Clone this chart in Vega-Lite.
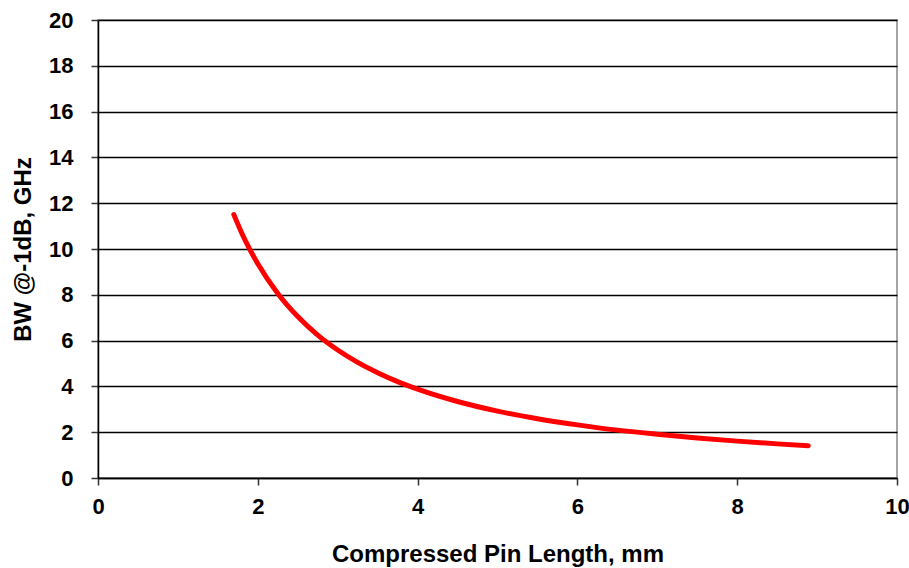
{
  "$schema": "https://vega.github.io/schema/vega-lite/v6.json",
  "autosize": "none",
  "width": 799,
  "height": 458,
  "padding": {"left": 98, "top": 20, "right": 12, "bottom": 90},
  "background": "white",
  "config": {
    "view": {"stroke": "#888888", "strokeWidth": 1.5},
    "font": "Liberation Sans"
  },
  "data": {
    "values": [
      {"x": 1.7, "y": 11.5},
      {"x": 1.8, "y": 10.69},
      {"x": 1.9, "y": 9.98},
      {"x": 2.0, "y": 9.36},
      {"x": 2.25, "y": 8.06},
      {"x": 2.5, "y": 7.05},
      {"x": 2.75, "y": 6.24},
      {"x": 3.0, "y": 5.59},
      {"x": 3.25, "y": 5.05},
      {"x": 3.5, "y": 4.6},
      {"x": 3.75, "y": 4.21},
      {"x": 4.0, "y": 3.88},
      {"x": 4.5, "y": 3.34},
      {"x": 5.0, "y": 2.92},
      {"x": 5.5, "y": 2.59},
      {"x": 6.0, "y": 2.32},
      {"x": 6.5, "y": 2.09},
      {"x": 7.0, "y": 1.91},
      {"x": 7.5, "y": 1.75},
      {"x": 8.0, "y": 1.61},
      {"x": 8.5, "y": 1.49},
      {"x": 8.89, "y": 1.41}
    ]
  },
  "mark": {"type": "line", "color": "#ff0000", "strokeWidth": 5, "strokeCap": "round", "strokeJoin": "round", "interpolate": "monotone"},
  "encoding": {
    "x": {
      "field": "x",
      "type": "quantitative",
      "scale": {"domain": [0, 10], "nice": false},
      "axis": {
        "title": "Compressed Pin Length, mm",
        "values": [0, 2, 4, 6, 8, 10],
        "grid": false,
        "domainColor": "#000000",
        "domainWidth": 1.5,
        "tickColor": "#333333",
        "tickWidth": 1.5,
        "tickSize": 7,
        "labelFont": "Liberation Sans",
        "labelFontSize": 22,
        "labelFontWeight": "bold",
        "labelColor": "#000000",
        "labelPadding": 11,
        "labelFlush": false,
        "titleFont": "Liberation Sans",
        "titleFontSize": 24,
        "titleFontWeight": "bold",
        "titleColor": "#000000",
        "titleY": 83,
        "titleBaseline": "alphabetic"
      }
    },
    "y": {
      "field": "y",
      "type": "quantitative",
      "scale": {"domain": [0, 20], "nice": false},
      "axis": {
        "title": "BW @-1dB, GHz",
        "values": [0, 2, 4, 6, 8, 10, 12, 14, 16, 18, 20],
        "grid": true,
        "gridColor": "#000000",
        "gridWidth": 1.5,
        "gridOpacity": 1,
        "domainColor": "#000000",
        "domainWidth": 1.5,
        "tickColor": "#333333",
        "tickWidth": 1.5,
        "tickSize": 7,
        "labelFont": "Liberation Sans",
        "labelFontSize": 22,
        "labelFontWeight": "bold",
        "labelColor": "#000000",
        "labelPadding": 18,
        "labelFlush": false,
        "titleFont": "Liberation Sans",
        "titleFontSize": 24,
        "titleFontWeight": "bold",
        "titleColor": "#000000",
        "titleX": -75,
        "titleBaseline": "middle"
      }
    }
  }
}
